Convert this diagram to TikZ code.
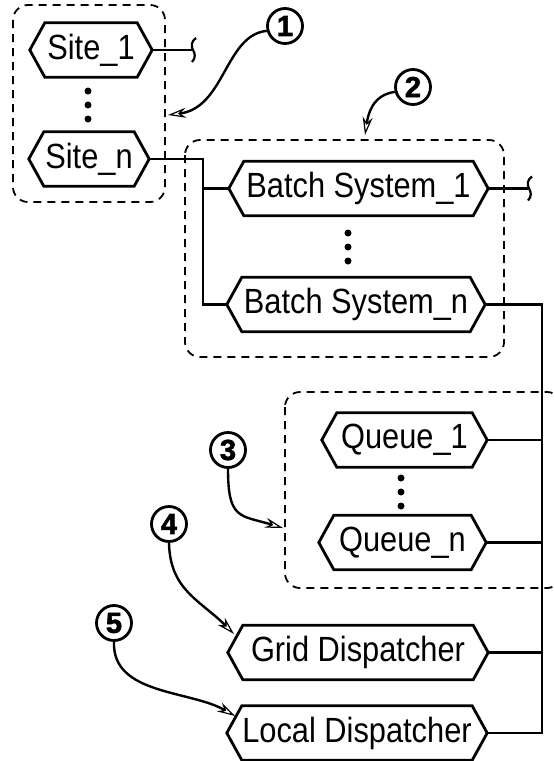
\documentclass[tikz,border=0pt]{standalone}
\usepackage{fontspec}
\setmainfont{Liberation Sans}
\newfontfamily\lblfont[FakeStretch=0.88]{Liberation Sans}
\newfontfamily\numfont[FakeBold=2]{Liberation Sans Bold}
\usetikzlibrary{arrows.meta}
\begin{document}
\begin{tikzpicture}[x=1pt,y=-1pt,
  hexbox/.style={inner sep=0pt, minimum height=54pt, font=\lblfont\fontsize{35}{42}\selectfont},
  hexline/.style={line width=2.8pt, line join=miter},
  conn/.style={line width=2.8pt},
  squig/.style={line width=2.2pt},
  grp/.style={line width=1.8pt, dash pattern=on 8pt off 6pt, rounded corners=15pt},
  num/.style={circle, draw, line width=2.8pt, minimum size=35pt, inner sep=0pt, font=\numfont\fontsize{29}{32}\selectfont},
  callout/.style={line width=2.4pt, -{Stealth[open, length=18pt, width=10pt, line width=1.2pt]}},
  vdot/.style={circle, fill, inner sep=0pt, minimum size=7pt}
]
\useasboundingbox (0,0) rectangle (554,761);

% groups
\draw[grp] (13,5) rectangle (165,202);
\draw[grp] (185,140) rectangle (504,357);
\draw[grp] (285,392) rectangle (562,588);

% nodes
\node[hexbox, minimum width=122pt] (s1) at (91,50) {Site\_1};
\node[hexbox, minimum width=120pt] (sn) at (89,159) {Site\_n};
\node[hexbox, minimum width=259pt] (b1) at (358.5,188.5) {Batch System\_1};
\node[hexbox, minimum width=258pt] (bn) at (356,304.5) {Batch System\_n};
\node[hexbox, minimum width=165pt] (q1) at (404.5,440) {Queue\_1};
\node[hexbox, minimum width=167pt] (qn) at (402.5,542.5) {Queue\_n};
\node[hexbox, minimum width=260pt] (gd) at (358,652.5) {Grid Dispatcher};
\node[hexbox, minimum width=260pt] (ld) at (357,733) {Local Dispatcher};

\foreach \n in {s1,sn,b1,bn,q1,qn,gd,ld}
  \draw[hexline] (\n.west) -- ([xshift=15pt]\n.north west) -- ([xshift=-15pt]\n.north east)
    -- (\n.east) -- ([xshift=-15pt]\n.south east) -- ([xshift=15pt]\n.south west) -- cycle;

% vertical dots
\foreach \y [count=\i] in {91,105,119} \node[vdot] (ds\i) at (88,\y) {};
\foreach \y [count=\i] in {233,247,261} \node[vdot] (db\i) at (348,\y) {};
\foreach \y [count=\i] in {478,492,506} \node[vdot] (dq\i) at (401,\y) {};

% connectors
\coordinate (e1) at (192,50);
\coordinate (e2) at (528,188.5);
\coordinate (jx) at (203,0);
\coordinate (rx) at (542,0);

\draw[conn] (s1.east) -- (e1);
\draw[squig, shift={(e1)}] (4,-12) .. controls (-1,-9) and (-1,-3) .. (1,0) .. controls (3,3) and (4,8) .. (0,12);
\draw[conn] (b1.east) -- (e2);
\draw[squig, shift={(e2)}] (4,-12) .. controls (-1,-9) and (-1,-3) .. (1,0) .. controls (3,3) and (4,8) .. (0,12);

\draw[conn, line join=miter] (sn.east) -- (jx |- sn.east) -- (jx |- bn.west) -- (bn.west);
\draw[conn] (jx |- b1.west) -- (b1.west);

\draw[conn, line join=miter] (bn.east) -- (rx |- bn.east) -- (rx |- ld.east) -- (ld.east);
\draw[conn] (q1.east) -- (rx |- q1.east);
\draw[conn] (qn.east) -- (rx |- qn.east);
\draw[conn] (gd.east) -- (rx |- gd.east);

% callouts
\node[num] (c1) at (285,26) {1};
\node[num] (c2) at (413,87) {2};
\node[num] (c3) at (228,450) {3};
\node[num] (c4) at (169,524) {4};
\node[num] (c5) at (114,623) {5};

\coordinate (t1) at (168,115);
\coordinate (t2) at (365,135);
\coordinate (t3) at (283,528);
\coordinate (t4) at (234,634);
\coordinate (t5) at (235,716);

\draw[callout] (c1.195) .. controls (225,35) and (225,108) .. (t1);
\draw[callout] (c2.195) .. controls (372,95) and (368,115) .. (t2);
\draw[callout] (c3.south) .. controls (228,520) and (240,515) .. (t3);
\draw[callout] (c4.south) .. controls (170,590) and (200,600) .. (t4);
\draw[callout] (c5.south) .. controls (112,695) and (190,690) .. (t5);
\end{tikzpicture}
\end{document}
